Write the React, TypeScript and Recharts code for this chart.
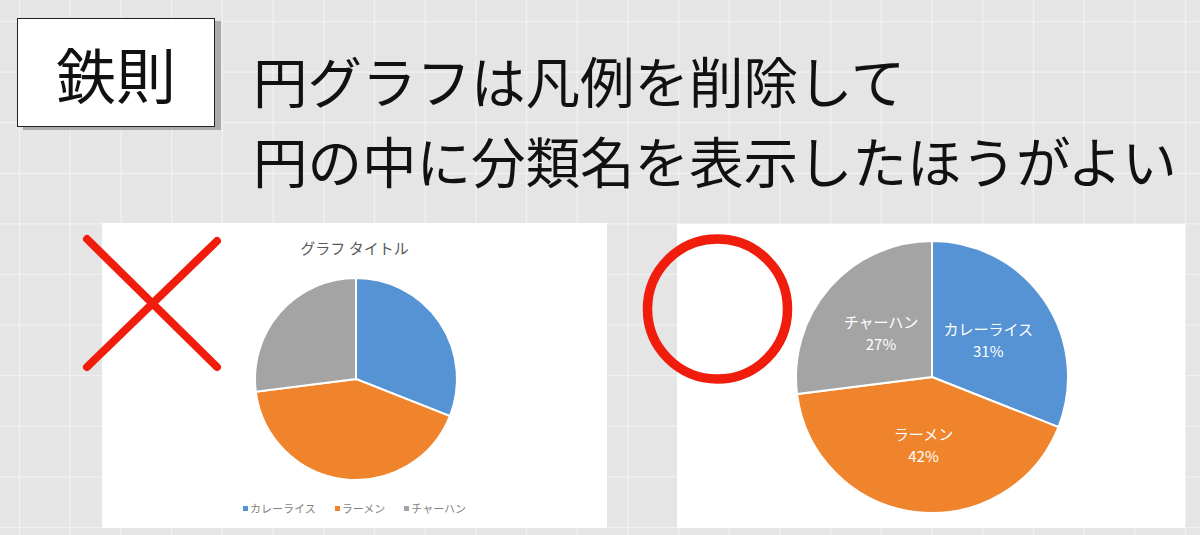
import React from 'react';
import { PieChart, Pie, Cell, Legend } from 'recharts';

// slide text
const badgeText = '鉄則';
const headingLines = ['円グラフは凡例を削除して', '円の中に分類名を表示したほうがよい'];
const chartTitle = 'グラフ タイトル';

// pie data (same for both charts)
const categories = ['カレーライス', 'ラーメン', 'チャーハン'];
const shares = [31, 42, 27];
const sliceColors = ['#5593d4', '#f0842c', '#a4a4a4'];

const data = categories.map((name, i) => ({ name, value: shares[i] }));

const FONT = "'Noto Sans CJK JP', 'Noto Sans', sans-serif";
const RAD = Math.PI / 180;

function InsideLabel(props: any) {
  const { cx, cy, midAngle, innerRadius, outerRadius, percent } = props;
  const name = props.name ?? props.payload?.name;
  const r = (innerRadius || 0) + (outerRadius - (innerRadius || 0)) * 0.5;
  const x = cx + r * Math.cos(-midAngle * RAD);
  const y = cy + r * Math.sin(-midAngle * RAD);
  return (
    <text fill="#ffffff" textAnchor="middle" dominantBaseline="central" fontSize={15} fontFamily={FONT}>
      <tspan x={x} y={y - 11}>{name}</tspan>
      <tspan x={x} y={y + 11}>{`${Math.round(percent * 100)}%`}</tspan>
    </text>
  );
}

function SquareLegend({ payload }: any) {
  // keep the data order, not the alphabetical one
  const items = [...(payload || [])].sort((a: any, b: any) => categories.indexOf(a.value) - categories.indexOf(b.value));
  return (
    <div style={{ display: 'flex', justifyContent: 'center', gap: 19, fontSize: 11, lineHeight: '15px', color: '#7f7f7f', fontFamily: FONT }}>
      {items.map((p: any) => (
        <span key={p.value} style={{ display: 'flex', alignItems: 'center' }}>
          <span style={{ width: 5, height: 5, background: p.color || sliceColors[categories.indexOf(p.value)], marginRight: 2, display: 'inline-block' }} />
          {p.value}
        </span>
      ))}
    </div>
  );
}

function Grid() {
  const xs: number[] = [];
  const ys: number[] = [];
  for (let k = 0; k < 24; k++) xs.push(19.5 + 50.7 * k);
  for (let k = 0; k < 11; k++) ys.push(21.5 + 50.6 * k);
  return (
    <svg width={1200} height={535} style={{ position: 'absolute', left: 0, top: 0 }}>
      {xs.map((x) => <line key={'x' + x} x1={x} x2={x} y1={0} y2={535} stroke="#f1f1f1" strokeWidth={1.2} />)}
      {ys.map((y) => <line key={'y' + y} x1={0} x2={1200} y1={y} y2={y} stroke="#f1f1f1" strokeWidth={1.2} />)}
    </svg>
  );
}

export default function App() {
  return (
    <div style={{ position: 'absolute', left: 0, top: 0, width: 1200, height: 535, background: '#e5e5e5', overflow: 'hidden', fontFamily: FONT }}>
      <Grid />

      {/* badge */}
      <div style={{ position: 'absolute', left: 17, top: 18, width: 198, height: 109, boxSizing: 'border-box', background: '#fff', border: '1.5px solid #222', boxShadow: '6px 3px 0 #ababab', display: 'flex', alignItems: 'center', justifyContent: 'center', fontSize: 60, lineHeight: '60px', color: '#111' }}>
        {badgeText}
      </div>

      {/* heading */}
      {headingLines.map((t, i) => (
        <div key={t} style={{ position: 'absolute', left: 253, top: 51.5 + i * 80, fontSize: 54.5, lineHeight: '55px', color: '#111', whiteSpace: 'nowrap' }}>
          {t}
        </div>
      ))}

      {/* bad example: legend */}
      <div style={{ position: 'absolute', left: 102, top: 223, width: 505, height: 305, background: '#fff' }}>
        <div style={{ position: 'absolute', left: 0, top: 15, width: 505, textAlign: 'center', fontSize: 15, lineHeight: '20px', color: '#595959' }}>
          {chartTitle}
        </div>
        <PieChart width={505} height={305} margin={{ top: 0, right: 0, bottom: 0, left: 0 }}>
          <Pie data={data} dataKey="value" nameKey="name" cx={254} cy={156} outerRadius={101} startAngle={90} endAngle={-270} stroke="#ffffff" strokeWidth={2} isAnimationActive={false}>
            {data.map((d, i) => <Cell key={d.name} fill={sliceColors[i]} />)}
          </Pie>
          <Legend verticalAlign="bottom" content={<SquareLegend />} wrapperStyle={{ left: 0, top: 278, bottom: 'auto', width: 505 }} />
        </PieChart>
      </div>

      {/* good example: labels inside */}
      <div style={{ position: 'absolute', left: 677, top: 224, width: 508, height: 304, background: '#fff' }}>
        <PieChart width={508} height={304} margin={{ top: 0, right: 0, bottom: 0, left: 0 }}>
          <Pie data={data} dataKey="value" nameKey="name" cx={255} cy={153} outerRadius={136} startAngle={90} endAngle={-270} stroke="#ffffff" strokeWidth={2} label={InsideLabel} labelLine={false} isAnimationActive={false}>
            {data.map((d, i) => <Cell key={d.name} fill={sliceColors[i]} />)}
          </Pie>
        </PieChart>
      </div>

      {/* red marks */}
      <svg width={1200} height={535} style={{ position: 'absolute', left: 0, top: 0, pointerEvents: 'none' }}>
        <line x1={87} y1={239} x2={217} y2={367} stroke="#f01d0d" strokeWidth={8} strokeLinecap="round" />
        <line x1={217} y1={241} x2={87} y2={367} stroke="#f01d0d" strokeWidth={8} strokeLinecap="round" />
        <circle cx={717.5} cy={309} r={70} fill="none" stroke="#f01d0d" strokeWidth={9.5} />
      </svg>
    </div>
  );
}
